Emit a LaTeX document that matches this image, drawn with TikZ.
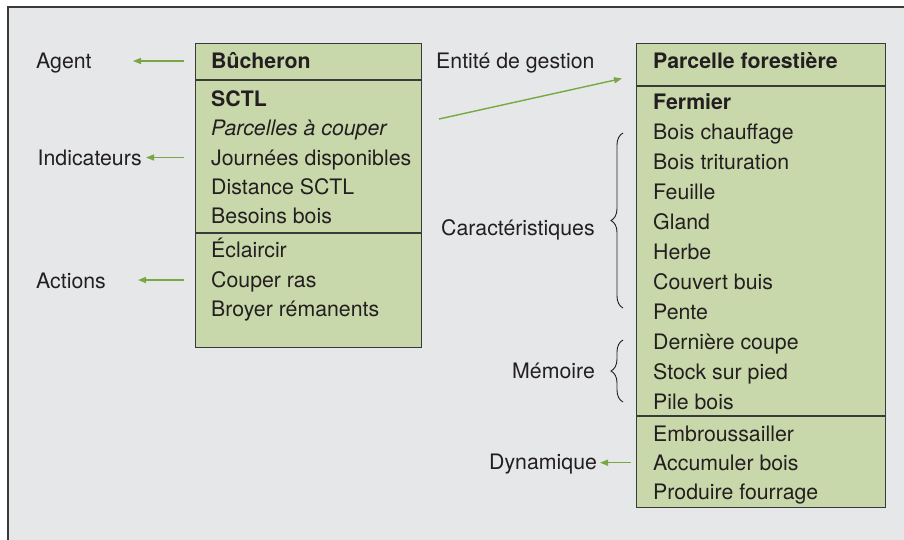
\documentclass[tikz,border=0pt]{standalone}
\usepackage{fontspec}
\setmainfont{TeX Gyre Heros}
\usetikzlibrary{arrows.meta,decorations.pathreplacing}
\definecolor{bg}{HTML}{E6E7E9}
\definecolor{boxgreen}{HTML}{C9D8AB}
\definecolor{arrgreen}{HTML}{78A843}
\definecolor{ink}{HTML}{231F20}
\definecolor{framec}{HTML}{3A3A3A}
\tikzset{
  txt/.style={anchor=base west,inner sep=0pt,font=\fontsize{21.3}{25}\selectfont,text=ink},
  boxst/.style={draw=framec,line width=1.4pt,fill=boxgreen,anchor=north west,inner sep=0pt},
  divline/.style={draw=framec,line width=1.3pt},
  arr/.style={draw=arrgreen,line width=1.4pt,-{Triangle[length=8pt,width=6pt]}},
  brc/.style={draw=ink,line width=0.9pt,decorate,decoration={brace,amplitude=12pt}},
}
\begin{document}
\begin{tikzpicture}[x=1pt,y=-1pt]
\useasboundingbox (0,0) rectangle (904,539);
\fill[white] (0,0) rectangle (904,539);
\begin{scope}
\clip (0,0) rectangle (904,539);
\draw[fill=bg,draw=framec,line width=1.3pt] (8,7) rectangle (912,548);
\end{scope}

% left box
\node[boxst,minimum width=226pt,minimum height=304pt] (lbox) at (195,43) {};
\draw[divline] (195,80) -- (421,80);
\draw[divline] (195,233) -- (421,233);
\node[txt,font=\fontsize{21.3}{25}\selectfont\bfseries] (buch) at (211,68) {Bûcheron};
\node[txt,font=\fontsize{21.3}{25}\selectfont\bfseries] (sctl) at (211,106) {SCTL};
\node[txt,font=\fontsize{21.3}{25}\selectfont\itshape] (parc) at (211,135.5) {Parcelles à couper};
\node[txt] (jour) at (211,165) {Journées disponibles};
\node[txt] (dist) at (211,194.5) {Distance SCTL};
\node[txt] (besb) at (211,223.5) {Besoins bois};
\node[txt] (ecla) at (211,257.5) {Éclaircir};
\node[txt] (coup) at (211,287) {Couper ras};
\node[txt] (broy) at (211,316.5) {Broyer rémanents};

% right box
\node[boxst,minimum width=249pt,minimum height=464pt] (rbox) at (636,43) {};
\draw[divline] (636,86) -- (885,86);
\draw[divline] (636,416) -- (885,416);
\node[txt,font=\fontsize{21.3}{25}\selectfont\bfseries] (pfor) at (653,68) {Parcelle forestière};
\node[txt,font=\fontsize{21.3}{25}\selectfont\bfseries] (ferm) at (653,109) {Fermier};
\node[txt] (bchf) at (653,139) {Bois chauffage};
\node[txt] (btri) at (653,169) {Bois trituration};
\node[txt] (feui) at (653,199) {Feuille};
\node[txt] (glan) at (653,229) {Gland};
\node[txt] (herb) at (653,259) {Herbe};
\node[txt] (couv) at (653,289) {Couvert buis};
\node[txt] (pent) at (653,319) {Pente};
\node[txt] (dern) at (653,349) {Dernière coupe};
\node[txt] (stck) at (653,379) {Stock sur pied};
\node[txt] (pile) at (653,409) {Pile bois};
\node[txt] (embr) at (653,441) {Embroussailler};
\node[txt] (accu) at (653,470) {Accumuler bois};
\node[txt] (prod) at (653,499) {Produire fourrage};

% labels
\node[txt] (agent) at (36,68) {Agent};
\node[txt] (indic) at (37.5,165.5) {Indicateurs};
\node[txt] (actio) at (36,288) {Actions};
\node[txt] (entit) at (436,68) {Entité de gestion};
\node[txt] (carac) at (441,235) {Caractéristiques};
\node[txt] (memo) at (512,378) {Mémoire};
\node[txt] (dyna) at (489,469) {Dynamique};

% arrows
\coordinate (a1s) at (184,61);   \coordinate (a1e) at (133,61);
\coordinate (a2s) at (184,157.5);\coordinate (a2e) at (146,157.5);
\coordinate (a3s) at (184,280);  \coordinate (a3e) at (138,280);
\coordinate (a4s) at (631,462.7);\coordinate (a4e) at (600,462.7);
\coordinate (a5s) at (439,119);  \coordinate (a5e) at (622,78.5);
\draw[arr] (a1s) -- (a1e);
\draw[arr] (a2s) -- (a2e);
\draw[arr] (a3s) -- (a3e);
\draw[arr] (a4s) -- (a4e);
\draw[arr] (a5s) -- (a5e);

% braces
\coordinate (b1b) at (623,308); \coordinate (b1t) at (623,133);
\coordinate (b2b) at (623,402); \coordinate (b2t) at (623,340);
\draw[brc] (b1b) -- (b1t);
\draw[brc] (b2b) -- (b2t);
\end{tikzpicture}
\end{document}
